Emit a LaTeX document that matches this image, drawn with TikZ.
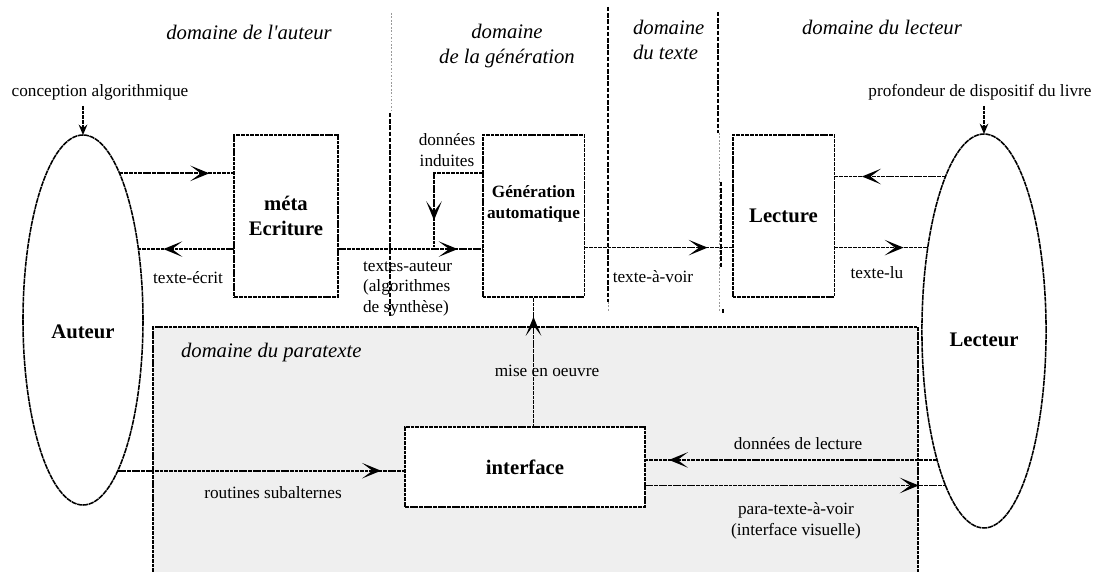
\documentclass[tikz,border=0pt]{standalone}
\usepackage{fontspec}
\setmainfont{Liberation Serif}
\usepackage{tikz}
\usetikzlibrary{arrows.meta,positioning,calc,decorations.markings,shapes.geometric}
\definecolor{Paper}{HTML}{EFEFEF}
\definecolor{Rule}{HTML}{9A9A9A}
\tikzset{
    every node/.style={font=\normalsize},
    procbox/.style={
        draw, fill=white, line width=1pt, dash pattern=on 2.2pt off 0.5pt,
        minimum width=59pt, minimum height=94pt,
        align=center, font=\large\bfseries,
        inner sep=2pt, outer sep=0pt
    },
    agent/.style={
        ellipse, draw, line width=0.9pt, dash pattern=on 3pt off 0.4pt,
        inner sep=0pt, outer sep=0pt
    },
    flow/.style={
        line width=1pt, dash pattern=on 2.2pt off 0.5pt
    },
    headat/.style={
        postaction={decorate},
        decoration={markings, mark=at position -#1 with {\arrow{Stealth[length=11pt,width=9pt,inset=6pt]}}}
    },
    smallhead/.style={
        -{Stealth[length=6pt,width=5pt,inset=2pt]}
    },
    domaine/.style={font=\large\itshape},
    frontier/.style={line width=1.6pt, dash pattern=on 2.6pt off 1pt},
    fineline/.style={draw=Rule, line width=0.3pt, dash pattern=on 1pt off 1pt},
}

\begin{document}
\begin{tikzpicture}[x=0.58pt, y=-0.58pt]
    \useasboundingbox (0,0) rectangle (1100,572);

    % Paratexte region
    \draw[flow, fill=Paper] (153,572) |- (918,327) -- (918,572);

    % Nodes
    \node[agent, minimum width=69.6pt, minimum height=214.6pt,
          label={[font=\large\bfseries, yshift=-7pt]center:Auteur}] (auteur) at (83,320) {};
    \node[agent, minimum width=72pt, minimum height=228.5pt,
          label={[font=\large\bfseries, yshift=-5pt]center:Lecteur}] (lecteur) at (984,331) {};
    \node[procbox, minimum width=60pt] (meta) at (286,216) {méta\\Ecriture};
    \node[procbox, font=\bfseries] (gen) at (533.5,216) {Génération\\automatique\\[4pt]};
    \node[procbox] (lecture) at (783.5,216) {Lecture};
    \node[procbox, minimum width=139pt, minimum height=46pt] (interface) at (525,467) {interface};

    % Domain titles
    \node[domaine] (domauteur) at (249,32) {domaine de l\textquotesingle auteur};
    \node[domaine, align=center] (domgen) at (507,46) {domaine\\de la génération};
    \node[domaine, align=left, anchor=west] (domtexte) at (627,40) {domaine\\du texte};
    \node[domaine] (domlecteur) at (882,27) {domaine du lecteur};
    \node[domaine, anchor=west] (dompara) at (175,353) {domaine du paratexte};

    % Labels
    \node (concep) at (100,92) {conception algorithmique};
    \node (profond) at (980,92) {profondeur de dispositif du livre};
    \node (ecrit) at (188,278) {texte-écrit};
    \node[align=center] (induites) at (447,150) {données\\induites};
    \node[align=left, anchor=west] (auteurtxt) at (357,289) {textes-auteur\\(algorithmes\\de synthèse)};
    \node (avoir) at (653,277) {texte-à-voir};
    \node (lu) at (877,273) {texte-lu};
    \node (oeuvre) at (547,371) {mise en oeuvre};
    \node (routines) at (273,493) {routines subalternes};
    \node (lecturedata) at (798,444) {données de lecture};
    \node[align=center] (paravoir) at (796,521) {para-texte-à-voir\\(interface visuelle)};

    % Arrows
    \coordinate (induit) at (434,247);
    \draw[flow, smallhead] (concep.south -| auteur.north) -- (auteur.north);
    \draw[flow, smallhead] (profond.south -| lecteur.north) -- (lecteur.north);
    \draw[flow, headat=14.5pt] (auteur.76) -- (auteur.76 -| meta.west);
    \draw[flow, headat=14.5pt] (meta.west |- auteur.52) -- (auteur.52);
    \draw[flow, headat=14.5pt] (meta.east |- auteur.52) -- (gen.west |- auteur.52);
    \draw[flow, headat=15.5pt] ([yshift=25pt]gen.west) -| (induit);
    \draw[flow, headat=14.5pt] (gen.east |- lecteur.124) -- (lecture.west |- lecteur.124);
    \draw[flow, headat=16pt] (lecteur.104) -- (lecteur.104 -| lecture.east);
    \draw[flow, headat=14pt] (lecture.east |- lecteur.124) -- (lecteur.124);
    \draw[flow, headat=11.5pt] (gen.south |- interface.north) -- (gen.south);
    \draw[flow, headat=14pt] (auteur.283) -- (auteur.283 -| interface.west);
    \draw[flow, headat=14pt] (lecteur.250) -- (lecteur.250 -| interface.east);
    \draw[flow, headat=15.5pt] (interface.east |- lecteur.256) -- (lecteur.256);

    % Frontiers
    \draw[fineline] (391,13) -- (391,112);
    \draw[frontier] (390,113) -- (390,316);
    \draw[frontier] (608,7) -- (608,302);
    \draw[fineline] (608,302) -- (608,312);
    \draw[frontier] (718,12) -- (718,133);
    \draw[fineline] (719,133) -- (719,312);
    \draw[frontier] (721,182) -- (721,268);
    \draw[frontier] (723,309) -- (723,313);
\end{tikzpicture}
\end{document}
